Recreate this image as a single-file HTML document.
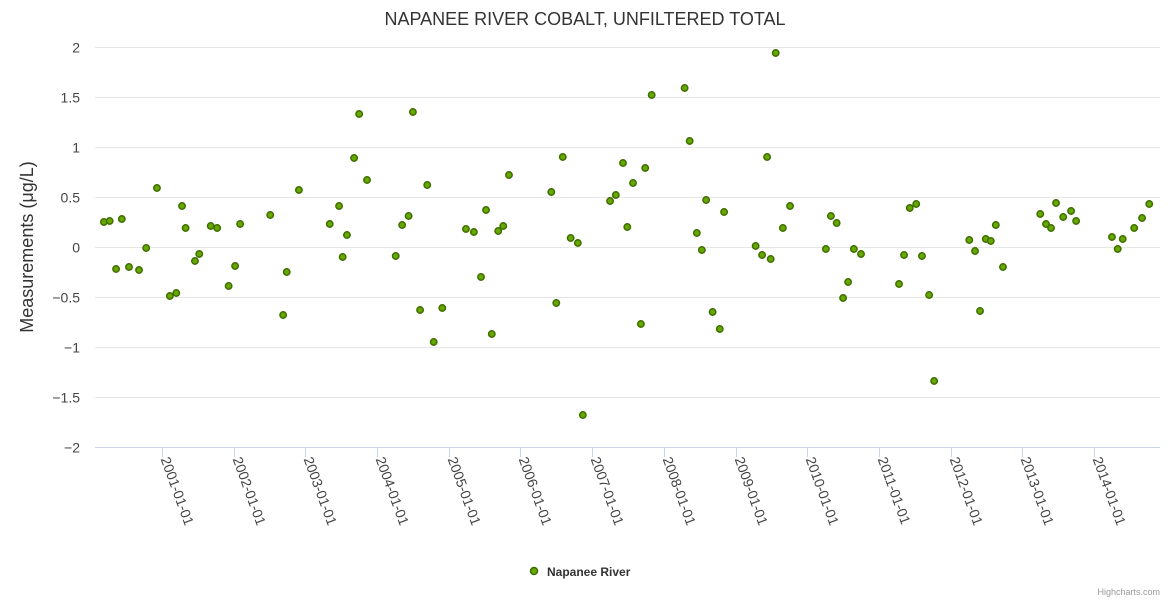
<!DOCTYPE html>
<html><head><meta charset="utf-8"><style>
body{margin:0;background:#fff;font-family:"Liberation Sans",sans-serif}
svg{display:block}
</style></head><body>
<svg id="chart" width="1170" height="600" xmlns="http://www.w3.org/2000/svg">
<text x="585" y="25" text-anchor="middle" font-size="18" fill="#333">NAPANEE RIVER COBALT, UNFILTERED TOTAL</text>
<text transform="translate(33,247) rotate(-90)" text-anchor="middle" font-size="18" fill="#333">Measurements (μg/L)</text>
<g id="grid"></g><g id="xaxis"></g><g id="points"></g>
<g>
<circle cx="534" cy="571" r="3.5" fill="#66a800" stroke="#3f6e00" stroke-width="1.5"/>
<text x="547" y="576" font-size="12" font-weight="bold" fill="#333">Napanee River</text>
</g>
<text x="1160" y="595" text-anchor="end" font-size="9" fill="#999">Highcharts.com</text>
</svg>
<script>
const dates=[2000.19,2000.27,2000.36,2000.44,2000.54,2000.68,2000.78,2000.93,2001.11,2001.20,2001.28,2001.33,2001.46,2001.52,2001.68,2001.77,2001.93,2002.02,2002.09,2002.51,2002.69,2002.74,2002.91,2003.34,2003.47,2003.52,2003.58,2003.68,2003.75,2003.86,2004.26,2004.35,2004.44,2004.50,2004.60,2004.70,2004.79,2004.91,2005.24,2005.35,2005.45,2005.52,2005.60,2005.69,2005.76,2005.84,2006.43,2006.50,2006.59,2006.70,2006.80,2006.87,2007.25,2007.33,2007.43,2007.49,2007.57,2007.68,2007.74,2007.83,2008.29,2008.36,2008.46,2008.53,2008.59,2008.68,2008.78,2008.84,2009.28,2009.37,2009.44,2009.49,2009.56,2009.66,2009.76,2010.26,2010.33,2010.41,2010.50,2010.57,2010.65,2010.75,2011.28,2011.35,2011.43,2011.52,2011.60,2011.70,2011.77,2012.26,2012.34,2012.41,2012.49,2012.56,2012.63,2012.73,2013.25,2013.33,2013.40,2013.47,2013.57,2013.68,2013.75,2014.25,2014.33,2014.40,2014.56,2014.67,2014.77];
const values=[0.25,0.26,-0.22,0.28,-0.20,-0.23,-0.01,0.59,-0.49,-0.46,0.41,0.19,-0.14,-0.07,0.21,0.19,-0.39,-0.19,0.23,0.32,-0.68,-0.25,0.57,0.23,0.41,-0.10,0.12,0.89,1.33,0.67,-0.09,0.22,0.31,1.35,-0.63,0.62,-0.95,-0.61,0.18,0.15,-0.30,0.37,-0.87,0.16,0.21,0.72,0.55,-0.56,0.90,0.09,0.04,-1.68,0.46,0.52,0.84,0.20,0.64,-0.77,0.79,1.52,1.59,1.06,0.14,-0.03,0.47,-0.65,-0.82,0.35,0.01,-0.08,0.90,-0.12,1.94,0.19,0.41,-0.02,0.31,0.24,-0.51,-0.35,-0.02,-0.07,-0.37,-0.08,0.39,0.43,-0.09,-0.48,-1.34,0.07,-0.04,-0.64,0.08,0.06,0.22,-0.20,0.33,0.23,0.19,0.44,0.30,0.36,0.26,0.10,-0.02,0.08,0.19,0.29,0.43];
const yTicks=[2,1.5,1,0.5,0,-0.5,-1,-1.5,-2];
const xTickYears=[2001,2002,2003,2004,2005,2006,2007,2008,2009,2010,2011,2012,2013,2014];
const NS='http://www.w3.org/2000/svg';
const L=95,R=1160,T=47,B=447,xMin=2000.066,xMax=2014.92,yMin=-2,yMax=2;
const xs=v=>L+(v-xMin)/(xMax-xMin)*(R-L);
const ys=v=>B-(v-yMin)/(yMax-yMin)*(B-T);
function mk(tag,attrs,parent){const e=document.createElementNS(NS,tag);for(const k in attrs)e.setAttribute(k,attrs[k]);parent.appendChild(e);return e;}
const grid=document.getElementById('grid'),xa=document.getElementById('xaxis'),pts=document.getElementById('points');
yTicks.forEach(t=>{
 const y=Math.round(ys(t))+0.5;
 const ln=mk('line',{x1:L,x2:R,y1:y,y2:y,stroke:t===-2?'#ccd6eb':'#e6e6e6'},grid);
 
 
 const tx=mk('text',{x:80,y:y+5,'text-anchor':'end','font-size':14,fill:'#444'},grid);
 tx.textContent=String(t).replace('-','−');
 
 
});
xTickYears.forEach(yr=>{
 const x=Math.round(xs(yr))+0.5;
 const tk=mk('line',{x1:x,x2:x,y1:B,y2:B+10,stroke:'#ccd6eb'},xa);
 
 
 const tx=mk('text',{transform:`translate(${x-2},${B+12}) rotate(70)`,'font-size':14,fill:'#444'},xa);
 tx.textContent=yr+'-01-01';
 
 
});
dates.forEach((d,i)=>{
 const c=mk('circle',{cx:xs(d),cy:ys(values[i]),r:3.2,fill:'#66a800',stroke:'#3f6e00','stroke-width':1.5},pts);
 
 
});
</script>
</body></html>
